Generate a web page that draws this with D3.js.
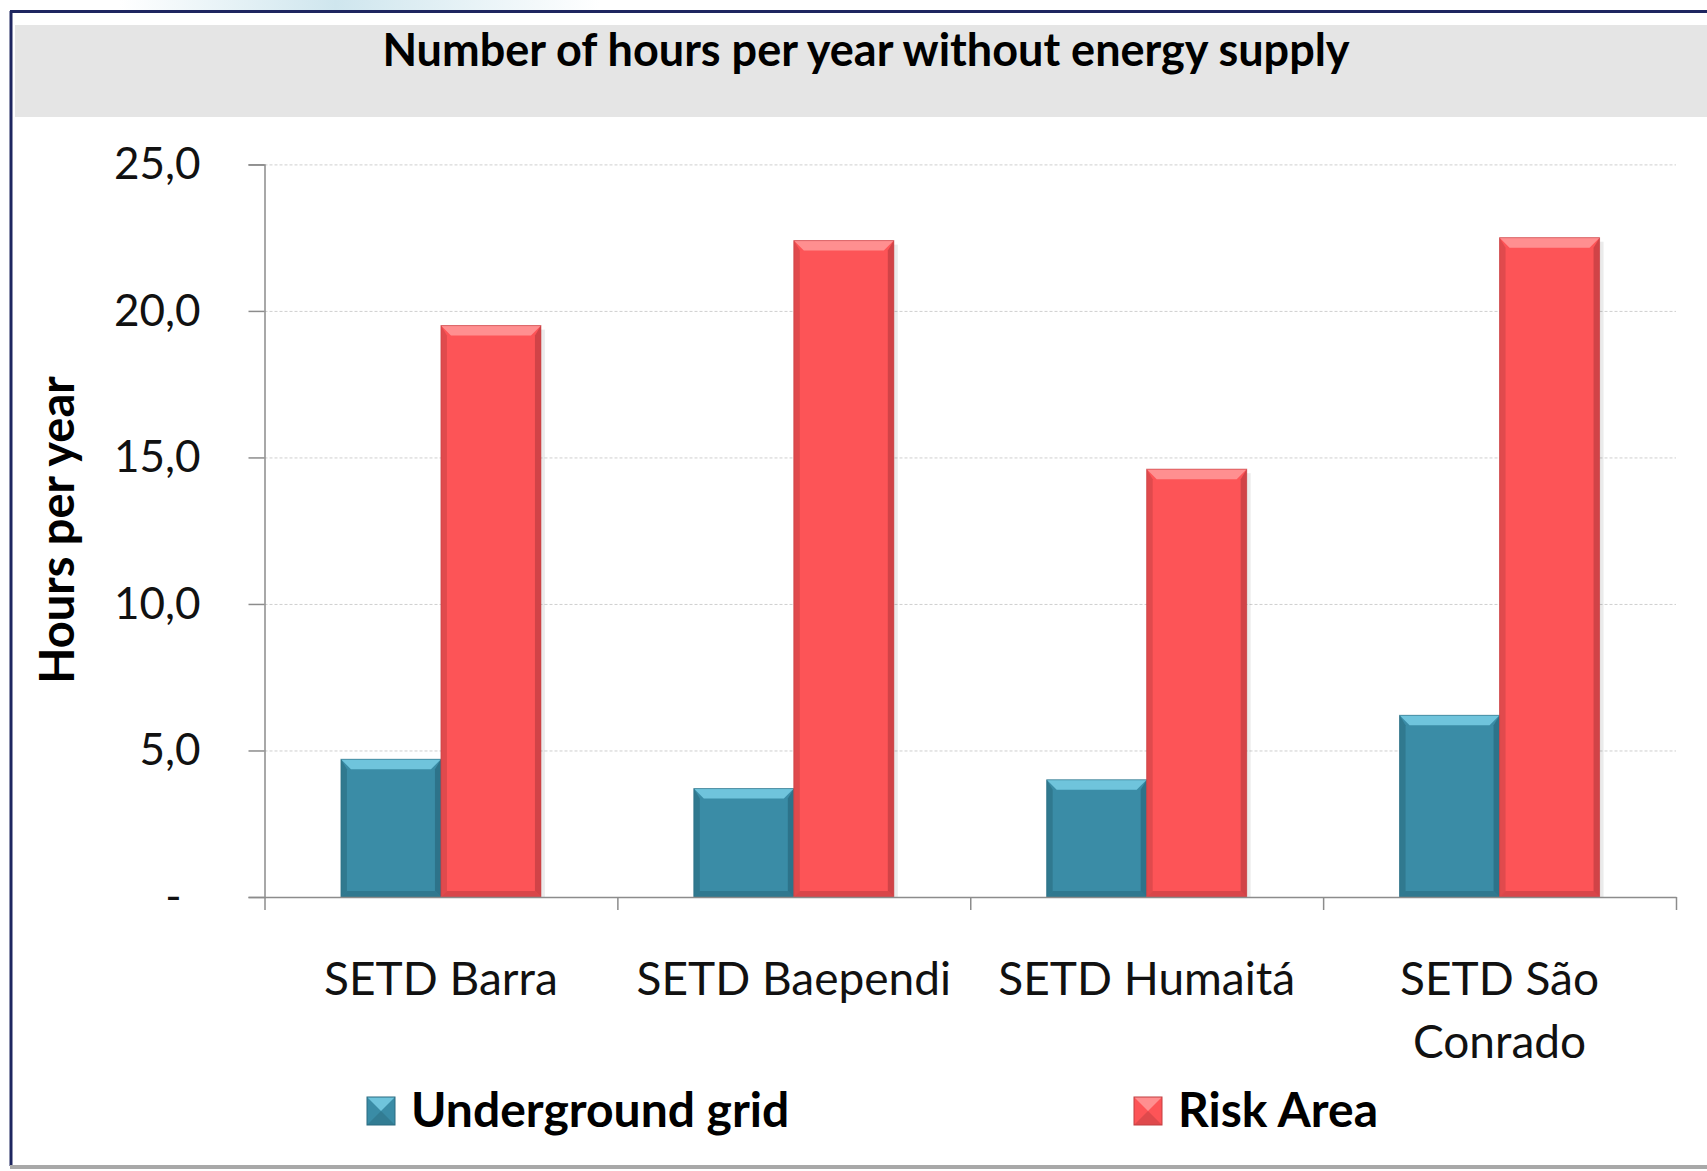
<!DOCTYPE html>
<html>
<head>
<meta charset="utf-8">
<script src="https://cdn.jsdelivr.net/npm/d3@7"></script>
<style>
  html, body { margin: 0; padding: 0; background: #fff; }
  svg { display: block; font-family: Lato, "Open Sans", sans-serif; }
</style>
</head>
<body>
<svg id="chart" width="1707" height="1171"></svg>
<script>
// ---- data ----
const categories = ["SETD Barra", "SETD Baependi", "SETD Humaitá", "SETD São Conrado"];
const categoryLines = [["SETD Barra"], ["SETD Baependi"], ["SETD Humaitá"], ["SETD São", "Conrado"]];
const seriesNames = ["Underground grid", "Risk Area"];
const undergroundGrid = [4.7, 3.7, 4.0, 6.2];
const riskArea = [19.5, 22.4, 14.6, 22.5];
const yTicks = [0, 5, 10, 15, 20, 25];

const colors = {
    "Underground grid": { base: "#3a8ca6", light: "#6fc4dc", dark: "#2a6b80", edge: "#30798f" },
    "Risk Area": { base: "#fd5457", light: "#ff8f90", dark: "#c23e41", edge: "#e04a4d" }
};

const svg = d3.select("#chart");
const W = 1707, H = 1171;

// ---- frame / background ----
const defs = svg.append("defs");
const bg = defs.append("linearGradient").attr("id", "slideBg").attr("x1", 0).attr("x2", 1);
bg.append("stop").attr("offset", "0%").attr("stop-color", "#ffffff");
bg.append("stop").attr("offset", "45%").attr("stop-color", "#cfe6ee");
bg.append("stop").attr("offset", "100%").attr("stop-color", "#ffffff");
svg.append("rect").attr("x", 120).attr("y", 0).attr("width", 480).attr("height", 11)
    .attr("fill", "url(#slideBg)");

svg.append("rect").attr("x", 11).attr("y", 12).attr("width", W - 11).attr("height", 1150)
    .attr("fill", "#fff");
// title band
svg.append("rect").attr("x", 15).attr("y", 25).attr("width", W - 15).attr("height", 92)
    .attr("fill", "#e5e5e5");
svg.append("line").attr("x1", 10).attr("x2", W).attr("y1", 11.5).attr("y2", 11.5)
    .attr("stroke", "#1e2660").attr("stroke-width", 3);
svg.append("line").attr("x1", 11).attr("x2", 11).attr("y1", 11).attr("y2", 1166)
    .attr("stroke", "#1e2660").attr("stroke-width", 3);
svg.append("line").attr("x1", 10).attr("x2", W).attr("y1", 1167).attr("y2", 1167)
    .attr("stroke", "#a8a8a8").attr("stroke-width", 4);

svg.append("text")
    .attr("x", 866).attr("y", 66)
    .attr("text-anchor", "middle")
    .attr("font-size", 45).attr("font-weight", "bold").attr("fill", "#000")
    .text("Number of hours per year without energy supply");

// ---- scales ----
const plotLeft = 264.5, plotRight = 1676, plotTop = 164.4, plotBottom = 897;
const y = d3.scaleLinear().domain([0, 25]).range([plotBottom, plotTop]);
const x0 = d3.scaleBand().domain(categories).range([plotLeft, plotRight]).padding(0);
const groupW = 200;
const x1 = d3.scaleBand().domain(seriesNames).range([0, groupW]).padding(0);
const xb = d3.scaleLinear().domain([0, categories.length]).range([plotLeft, plotRight]);

// gridlines
svg.append("g")
    .selectAll("line")
    .data(yTicks.filter(d => d > 0))
    .join("line")
    .attr("x1", plotLeft).attr("x2", plotRight)
    .attr("y1", d => y(d) + 0.5).attr("y2", d => y(d) + 0.5)
    .attr("stroke", "#cfcfcf").attr("stroke-width", 1)
    .attr("stroke-dasharray", "3,2");

// ---- bars ----
const rows = categories.map((c, i) => ({
    cat: c,
    values: [
        { name: seriesNames[0], value: undergroundGrid[i] },
        { name: seriesNames[1], value: riskArea[i] }
    ]
}));

function bevelRect(g, x, yTop, w, h, col, b) {
    const x2 = x + w, y2 = yTop + h;
    g.append("rect").attr("x", x).attr("y", yTop).attr("width", w).attr("height", h).attr("fill", col.base);
    g.append("polygon")
        .attr("points", [[x, yTop], [x2, yTop], [x2 - b, yTop + b], [x + b, yTop + b]].join(" "))
        .attr("fill", col.light);
    g.append("polygon")
        .attr("points", [[x, yTop], [x + b * 0.6, yTop + b], [x + b * 0.6, y2 - b * 0.6], [x, y2]].join(" "))
        .attr("fill", col.edge);
    g.append("polygon")
        .attr("points", [[x2, yTop], [x2 - b * 0.6, yTop + b], [x2 - b * 0.6, y2 - b * 0.6], [x2, y2]].join(" "))
        .attr("fill", col.dark).attr("opacity", 0.75);
    g.append("polygon")
        .attr("points", [[x, y2], [x + b * 0.6, y2 - b * 0.6], [x2 - b * 0.6, y2 - b * 0.6], [x2, y2]].join(" "))
        .attr("fill", col.dark).attr("opacity", 0.6);
    g.append("rect").attr("x", x).attr("y", yTop).attr("width", w).attr("height", h)
        .attr("fill", "none").attr("stroke", col.dark).attr("stroke-width", 1).attr("opacity", 0.6);
}

const groups = svg.append("g").selectAll("g")
    .data(rows)
    .join("g")
    .attr("transform", d => `translate(${x0(d.cat) + (x0.bandwidth() - groupW) / 2},0)`);

groups.each(function(d) {
    const g = d3.select(this);
    d.values.forEach(v => {
        // soft shadow on the right
        g.append("rect")
            .attr("x", x1(v.name) + x1.bandwidth()).attr("y", y(v.value) + 4)
            .attr("width", 4).attr("height", plotBottom - y(v.value) - 4)
            .attr("fill", "#000").attr("opacity", 0.08);
        bevelRect(g, x1(v.name), y(v.value), x1.bandwidth(), plotBottom - y(v.value), colors[v.name], 10);
    });
});

// ---- axes ----
const yAxis = d3.axisLeft(y)
    .tickValues(yTicks)
    .tickSize(16)
    .tickPadding(48)
    .tickFormat(d => d === 0 ? "-" : d3.format(".1f")(d).replace(".", ","));
const yg = svg.append("g").attr("transform", `translate(${plotLeft},0)`).call(yAxis);
yg.select(".domain").attr("stroke", "#8c8c8c").attr("stroke-width", 1.5);
yg.selectAll(".tick line").attr("stroke", "#8c8c8c").attr("stroke-width", 1.5);
yg.selectAll(".tick text")
    .attr("font-family", "Lato, sans-serif").attr("font-size", 44).attr("fill", "#111")
    .attr("dx", d => d === 0 ? -19 : 0);

const xAxis = d3.axisBottom(xb).ticks(categories.length).tickSize(13).tickSizeOuter(0).tickFormat("");
const xg = svg.append("g").attr("transform", `translate(0,${plotBottom})`).call(xAxis);
xg.select(".domain").attr("stroke", "#8c8c8c").attr("stroke-width", 1.5);
xg.selectAll(".tick line").attr("stroke", "#8c8c8c").attr("stroke-width", 1.5);

// category labels
svg.append("g").selectAll("text")
    .data(categories)
    .join("text")
    .attr("x", d => x0(d) + x0.bandwidth() / 2)
    .attr("y", 995)
    .attr("text-anchor", "middle")
    .attr("font-size", 46).attr("fill", "#111")
    .each(function(d, i) {
        d3.select(this).selectAll("tspan")
            .data(categoryLines[i])
            .join("tspan")
            .attr("x", x0(d) + x0.bandwidth() / 2)
            .attr("dy", (t, j) => j === 0 ? 0 : 63)
            .text(t => t);
    });

// y-axis title
svg.append("text")
    .attr("transform", "translate(74,530) rotate(-90)")
    .attr("text-anchor", "middle")
    .attr("font-size", 47).attr("font-weight", "bold").attr("fill", "#000")
    .text("Hours per year");

// ---- legend ----
const legendX = [367, 1134];
const legend = svg.append("g").selectAll("g")
    .data(seriesNames)
    .join("g")
    .attr("transform", (d, i) => `translate(${legendX[i]},1097)`);
legend.each(function(d) {
    const g = d3.select(this);
    const col = colors[d];
    g.append("rect").attr("width", 28).attr("height", 28).attr("fill", col.base);
    g.append("polygon").attr("points", "0,0 28,0 14,14").attr("fill", col.light);
    g.append("polygon").attr("points", "0,28 28,28 14,14").attr("fill", col.dark).attr("opacity", 0.5);
    g.append("rect").attr("width", 28).attr("height", 28).attr("fill", "none")
        .attr("stroke", col.dark).attr("stroke-width", 1);
    g.append("text").attr("x", 44).attr("y", 30)
        .attr("font-size", 48).attr("font-weight", "bold").attr("fill", "#000")
        .text(d);
});
</script>
</body>
</html>
